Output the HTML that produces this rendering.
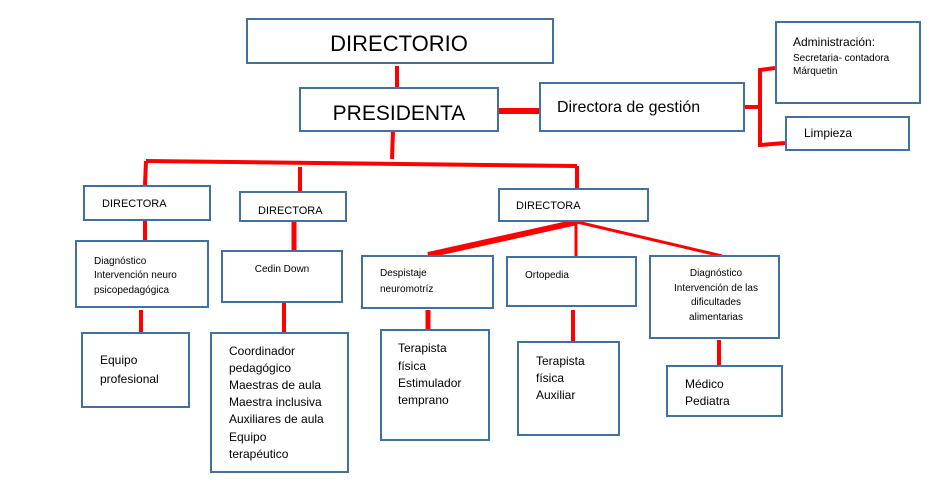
<!DOCTYPE html>
<html><head><meta charset="utf-8"><style>
html,body{margin:0;padding:0;background:#fff;}
svg{display:block}
text{font-family:"Liberation Sans",sans-serif;fill:#000;}
.b{fill:#fff;stroke:#41719c;stroke-width:2}
.r{stroke:#f00;stroke-width:4;fill:none}
</style></head><body>
<svg width="946" height="487" viewBox="0 0 946 487" xmlns="http://www.w3.org/2000/svg">
<!-- lines -->
<line class="r" x1="397" y1="66" x2="397" y2="87"/>
<line class="r" x1="498" y1="111" x2="539" y2="111" style="stroke-width:6"/>
<line class="r" x1="743" y1="107" x2="760" y2="107"/>
<polyline class="r" points="775,68 760,70 760,145 785,143"/>
<line class="r" x1="393" y1="131" x2="392" y2="159"/>
<line class="r" x1="146" y1="161" x2="577" y2="166"/>
<line class="r" x1="146" y1="161" x2="145" y2="185"/>
<line class="r" x1="300" y1="167" x2="300" y2="191"/>
<line class="r" x1="577" y1="166" x2="577" y2="188"/>
<line class="r" x1="577" y1="222" x2="428" y2="255" style="stroke-width:6"/>
<line class="r" x1="576" y1="222" x2="576" y2="256" style="stroke-width:3"/>
<line class="r" x1="577" y1="222" x2="722" y2="256" style="stroke-width:3"/>
<line class="r" x1="145" y1="221" x2="145" y2="240"/>
<line class="r" x1="294" y1="221" x2="294" y2="251" style="stroke-width:5"/>
<line class="r" x1="141" y1="310" x2="141" y2="333"/>
<line class="r" x1="284" y1="303" x2="284" y2="333"/>
<line class="r" x1="428" y1="310" x2="428" y2="330" style="stroke-width:5"/>
<line class="r" x1="573" y1="310" x2="573" y2="342"/>
<line class="r" x1="719" y1="340" x2="719" y2="366"/>
<!-- boxes -->
<rect class="b" x="247" y="19" width="306" height="44"/>
<text x="399" y="51" font-size="22" text-anchor="middle">DIRECTORIO</text>
<rect class="b" x="300" y="88" width="198" height="43"/>
<text x="399" y="120" font-size="21" text-anchor="middle">PRESIDENTA</text>
<rect class="b" x="540" y="83" width="204" height="48"/>
<text x="557" y="112" font-size="16">Directora de gestión</text>
<rect class="b" x="776" y="22" width="144" height="81"/>
<text x="793" y="46" font-size="12">Administración:</text>
<text x="793" y="61" font-size="10">Secretaria- contadora</text>
<text x="793" y="74" font-size="10">Márquetin</text>
<rect class="b" x="786" y="117" width="123" height="33"/>
<text x="804" y="137" font-size="12">Limpieza</text>

<rect class="b" x="84" y="186" width="126" height="34"/>
<text x="102" y="207" font-size="11">DIRECTORA</text>
<rect class="b" x="240" y="192" width="106" height="29"/>
<text x="258" y="214" font-size="11">DIRECTORA</text>
<rect class="b" x="499" y="189" width="149" height="32"/>
<text x="516" y="209" font-size="11">DIRECTORA</text>

<rect class="b" x="76" y="241" width="132" height="66"/>
<text font-size="10"><tspan x="94" y="264">Diagnóstico</tspan><tspan x="94" y="278">Intervención neuro</tspan><tspan x="94" y="293">psicopedagógica</tspan></text>
<rect class="b" x="222" y="251" width="120" height="51"/>
<text x="282" y="272" font-size="10" text-anchor="middle">Cedin Down</text>
<rect class="b" x="362" y="256" width="131" height="52"/>
<text font-size="10"><tspan x="380" y="276">Despistaje</tspan><tspan x="380" y="292">neuromotríz</tspan></text>
<rect class="b" x="507" y="257" width="129" height="49"/>
<text x="525" y="278" font-size="10">Ortopedia</text>
<rect class="b" x="650" y="256" width="129" height="82"/>
<text font-size="10" text-anchor="middle"><tspan x="716" y="276">Diagnóstico</tspan><tspan x="716" y="291">Intervención de las</tspan><tspan x="716" y="305">dificultades</tspan><tspan x="716" y="320">alimentarias</tspan></text>

<rect class="b" x="82" y="333" width="107" height="74"/>
<text font-size="12"><tspan x="100" y="364">Equipo</tspan><tspan x="100" y="383">profesional</tspan></text>
<rect class="b" x="211" y="333" width="137" height="139"/>
<text font-size="12"><tspan x="229" y="355">Coordinador</tspan><tspan x="229" y="372">pedagógico</tspan><tspan x="229" y="389">Maestras de aula</tspan><tspan x="229" y="406">Maestra inclusiva</tspan><tspan x="229" y="423">Auxiliares de aula</tspan><tspan x="229" y="441">Equipo</tspan><tspan x="229" y="458">terapéutico</tspan></text>
<rect class="b" x="381" y="330" width="108" height="110"/>
<text font-size="12"><tspan x="398" y="352">Terapista</tspan><tspan x="398" y="370">física</tspan><tspan x="398" y="387">Estimulador</tspan><tspan x="398" y="404">temprano</tspan></text>
<rect class="b" x="518" y="342" width="101" height="93"/>
<text font-size="12"><tspan x="536" y="365">Terapista</tspan><tspan x="536" y="382">física</tspan><tspan x="536" y="399">Auxiliar</tspan></text>
<rect class="b" x="667" y="366" width="115" height="50"/>
<text font-size="12"><tspan x="685" y="388">Médico</tspan><tspan x="685" y="405">Pediatra</tspan></text>
</svg>
</body></html>
